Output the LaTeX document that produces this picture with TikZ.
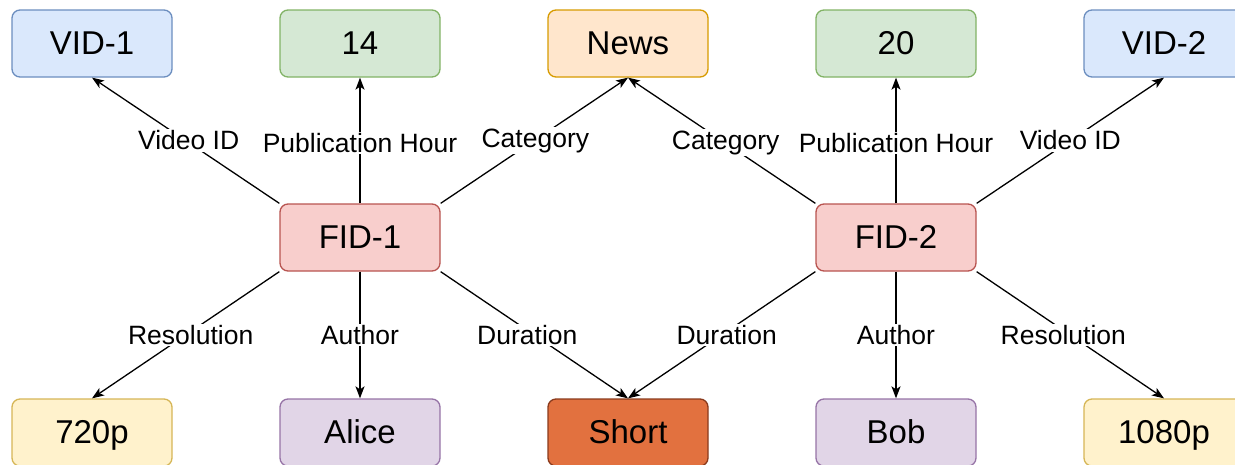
\documentclass[tikz,border=0pt]{standalone}
\usepackage{fontspec}
\setmainfont{Liberation Sans}
\usetikzlibrary{arrows.meta}

\definecolor{blueF}{HTML}{DAE8FC}\definecolor{blueD}{HTML}{6C8EBF}
\definecolor{greenF}{HTML}{D5E8D4}\definecolor{greenD}{HTML}{82B366}
\definecolor{orangeF}{HTML}{FFE6CC}\definecolor{orangeD}{HTML}{D79B00}
\definecolor{redF}{HTML}{F8CECC}\definecolor{redD}{HTML}{B85450}
\definecolor{yellowF}{HTML}{FFF2CC}\definecolor{yellowD}{HTML}{D6B656}
\definecolor{purpleF}{HTML}{E1D5E7}\definecolor{purpleD}{HTML}{9673A6}
\definecolor{shortF}{HTML}{E2713F}\definecolor{shortD}{HTML}{8A3A1C}

\tikzset{
  box/.style={rectangle, rounded corners=8pt, line width=1.3pt,
    minimum width=160pt, minimum height=67pt, inner sep=0pt,
    text height=27pt, text depth=5.4pt,
    font=\fontsize{33}{40}\selectfont},
  bluebox/.style={box, fill=blueF, draw=blueD},
  greenbox/.style={box, fill=greenF, draw=greenD},
  orangebox/.style={box, fill=orangeF, draw=orangeD},
  redbox/.style={box, fill=redF, draw=redD},
  yellowbox/.style={box, fill=yellowF, draw=yellowD},
  purplebox/.style={box, fill=purpleF, draw=purpleD},
  shortbox/.style={box, fill=shortF, draw=shortD},
  link/.style={line width=1.3pt, -{Stealth[length=12pt,width=9pt,inset=3pt]}},
  lbl/.style={fill=white, inner sep=1.5pt, font=\fontsize{26.5}{30}\selectfont}
}

\begin{document}
\begin{tikzpicture}[x=1pt,y=-1pt]
\useasboundingbox (0,0) rectangle (1235,464);
\clip (0,0) rectangle (1235,464);

% top row
\node[bluebox]   (vid1) at (92,43.5)   {VID-1};
\node[greenbox]  (h14)  at (360,43.5)  {14};
\node[orangebox] (news) at (628,43.5)  {News};
\node[greenbox]  (h20)  at (896,43.5)  {20};
\node[bluebox]   (vid2) at (1164,43.5) {VID-2};

% feature nodes
\node[redbox] (fid1) at (360,237.5) {FID-1};
\node[redbox] (fid2) at (896,237.5) {FID-2};

% bottom row
\node[yellowbox] (r720)  at (92,432.5)   {720p};
\node[purplebox] (alice) at (360,432.5)  {Alice};
\node[shortbox]  (short) at (628,432.5)  {Short};
\node[purplebox] (bob)   at (896,432.5)  {Bob};
\node[yellowbox] (r1080) at (1164,432.5) {1080p};

% edges of FID-1
\draw[link] (fid1.north west) -- node[lbl, xshift=3pt] {Video ID} (vid1.south);
\draw[link] (fid1.north) -- node[lbl, yshift=-2.5pt] {Publication Hour} (h14.south);
\draw[link] (fid1.north east) -- node[lbl, xshift=1pt] {Category} (news.south);
\draw[link] (fid1.south west) -- node[lbl, xshift=5pt] {Resolution} (r720.north);
\draw[link] (fid1.south) -- node[lbl] {Author} (alice.north);
\draw[link] (fid1.south east) -- node[lbl, xshift=-7pt] {Duration} (short.north);

% edges of FID-2
\draw[link] (fid2.north west) -- node[lbl, xshift=4pt, yshift=-2pt] {Category} (news.south);
\draw[link] (fid2.north) -- node[lbl, yshift=-2.5pt] {Publication Hour} (h20.south);
\draw[link] (fid2.north east) -- node[lbl] {Video ID} (vid2.south);
\draw[link] (fid2.south west) -- node[lbl, xshift=5pt] {Duration} (short.north);
\draw[link] (fid2.south) -- node[lbl] {Author} (bob.north);
\draw[link] (fid2.south east) -- node[lbl, xshift=-7pt] {Resolution} (r1080.north);
\end{tikzpicture}
\end{document}
